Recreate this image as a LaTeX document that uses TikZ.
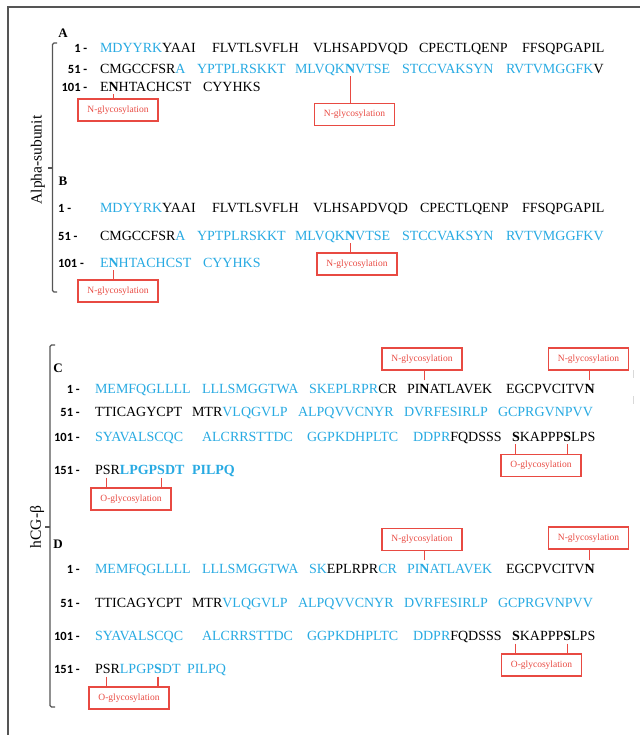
\documentclass[tikz,border=0pt]{standalone}
\usepackage{fontspec}
\setmainfont{Liberation Serif}
\newfontfamily\numfont{Carlito}
\definecolor{sblue}{RGB}{40,170,226}
\definecolor{gred}{RGB}{232,74,66}
\definecolor{bgray}{RGB}{85,85,85}
\newcommand{\bluetxt}[1]{\textcolor{sblue}{#1}}
\begin{document}
\begin{tikzpicture}[x=1pt,y=-1pt,
  seqt/.style={font=\fontsize{14}{16}\selectfont, inner sep=0pt, outer sep=0pt, anchor=base west},
  numl/.style={font=\numfont\bfseries\fontsize{12.5}{14}\selectfont, inner sep=0pt, anchor=base east},
  numlw/.style={font=\numfont\bfseries\fontsize{12.5}{14}\selectfont, inner sep=0pt, anchor=base west},
  plabel/.style={font=\bfseries\fontsize{13}{15}\selectfont, inner sep=0pt},
  gbox/.style={draw=gred, line width=1.1pt, text=gred, font=\fontsize{9.5}{11}\selectfont, minimum width=80pt, minimum height=22pt, inner sep=0pt},
  tick/.style={draw=gred, line width=1.1pt},
  brk/.style={draw=bgray, line width=1.2pt, rounded corners=1.5pt},
  side/.style={font=\fontsize{15.5}{17}\selectfont, rotate=90, inner sep=0pt}]
\useasboundingbox (0,0) rectangle (639,735);
% frame
\draw[draw=bgray, line width=1.4pt] (660,7) -- (8,7) -- (8,760);
\draw[draw=black!15, line width=1pt] (633,370) -- (633,378) (633,396) -- (633,404);

% side labels and brackets
\node[side] (lalpha) at (38,160) {Alpha-subunit};
\draw[brk] (57,43) -- (52.5,43) -- (52.5,292) -- (57,292);
\draw[brk] (52.5,168) -- (47.5,168);
\node[side] (lhcg) at (37,527) {hCG-β};
\draw[brk] (55,345) -- (50,345) -- (50,707) -- (55,707);
\draw[brk] (50,527) -- (45,527);

% ===== Panel A =====
\node[plabel] (pA) at (63,33) {A};
\node[numl] (nA1) at (87.5,52.6) {1 -};
\node[numl] (nA2) at (87.5,73.1) {51 -};
\node[numl] (nA3) at (87.5,91.6) {101 -};
\node[seqt] (a1a) at (100,52.6) {\bluetxt{MDYYRK}YAAI};
\node[seqt] (a1b) at (212,52.6) {FLVTLSVFLH};
\node[seqt] (a1c) at (313,52.6) {VLHSAPDVQD};
\node[seqt] (a1d) at (419,52.6) {CPECTLQENP};
\node[seqt] (a1e) at (522,52.6) {FFSQPGAPIL};
\node[seqt] (a2a) at (100,73.1) {CMGCCFSR\bluetxt{A}};
\node[seqt] (a2b) at (197,73.1) {\bluetxt{YPTPLRSKKT}};
\node[seqt] (a2c) at (295,73.1) {\bluetxt{MLVQK}};
\node[seqt] (a2N) at (a2c.base east) {\bluetxt{\bfseries N}};
\node[seqt] (a2d) at (a2N.base east) {\bluetxt{VTSE}};
\node[seqt] (a2e) at (402,73.1) {\bluetxt{STCCVAKSYN}};
\node[seqt] (a2f) at (506,73.1) {\bluetxt{RVTVMGGFK}V};
\node[seqt] (a3a) at (100,91.6) {E};
\node[seqt] (a3N) at (a3a.base east) {\bfseries N};
\node[seqt] (a3b) at (a3N.base east) {HTACHCST};
\node[seqt] (a3c) at (203,91.6) {CYYHKS};
\node[gbox] (bA1) at (118,110) {N-glycosylation};
\node[gbox] (bA2) at (354.5,114.5) {N-glycosylation};
\draw[tick] ([yshift=-2.5pt]a3N.south) -- (a3N.south |- bA1.north);
\draw[tick] ([yshift=-3pt]a2N.south) -- (a2N.south |- bA2.north);

% ===== Panel B =====
\node[plabel] (pB) at (63,181) {B};
\node[numlw] (nB1) at (58,212.6) {1 -};
\node[numlw] (nB2) at (58,240.6) {51 -};
\node[numlw] (nB3) at (58,267.6) {101 -};
\node[seqt] (b1a) at (100,212.6) {\bluetxt{MDYYRK}YAAI};
\node[seqt] (b1b) at (212,212.6) {FLVTLSVFLH};
\node[seqt] (b1c) at (313,212.6) {VLHSAPDVQD};
\node[seqt] (b1d) at (420,212.6) {CPECTLQENP};
\node[seqt] (b1e) at (522,212.6) {FFSQPGAPIL};
\node[seqt] (b2a) at (100,240.6) {CMGCCFSR\bluetxt{A}};
\node[seqt] (b2b) at (197,240.6) {\bluetxt{YPTPLRSKKT}};
\node[seqt] (b2c) at (295,240.6) {\bluetxt{MLVQK}};
\node[seqt] (b2N) at (b2c.base east) {\bluetxt{\bfseries N}};
\node[seqt] (b2d) at (b2N.base east) {\bluetxt{VTSE}};
\node[seqt] (b2e) at (402,240.6) {\bluetxt{STCCVAKSYN}};
\node[seqt] (b2f) at (506,240.6) {\bluetxt{RVTVMGGFKV}};
\node[seqt] (b3a) at (100,267.6) {\bluetxt{E}};
\node[seqt] (b3N) at (b3a.base east) {\bluetxt{\bfseries N}};
\node[seqt] (b3b) at (b3N.base east) {\bluetxt{HTACHCST}};
\node[seqt] (b3c) at (203,267.6) {\bluetxt{CYYHKS}};
\node[gbox] (bB1) at (118,291) {N-glycosylation};
\node[gbox] (bB2) at (357,264) {N-glycosylation};
\draw[tick] ([yshift=-2.5pt]b3N.south) -- (b3N.south |- bB1.north);
\draw[tick] ([yshift=-2.5pt]b2N.south) -- (b2N.south |- bB2.north);

% ===== Panel C =====
\node[plabel] (pC) at (58,368) {C};
\node[numl] (nC1) at (80,393.6) {1 -};
\node[numl] (nC2) at (80,416.6) {51 -};
\node[numl] (nC3) at (80,441.6) {101 -};
\node[numl] (nC4) at (80,474.6) {151 -};
\node[seqt] (c1a) at (95,393.6) {\bluetxt{MEMFQGLLLL}};
\node[seqt] (c1b) at (202,393.6) {\bluetxt{LLLSMGGTWA}};
\node[seqt] (c1c) at (309,393.6) {\bluetxt{SKEPLRPR}CR};
\node[seqt] (c1d) at (407,393.6) {PI};
\node[seqt] (c1N) at (c1d.base east) {\bfseries N};
\node[seqt] (c1e) at (c1N.base east) {ATLAVEK};
\node[seqt] (c1f) at (506,393.6) {EGCPVCITV};
\node[seqt] (c1N2) at (c1f.base east) {\bfseries N};
\node[seqt] (c2a) at (95,416.6) {TTICAGYCPT};
\node[seqt] (c2b) at (192,416.6) {MTR\bluetxt{VLQGVLP}};
\node[seqt] (c2c) at (298,416.6) {\bluetxt{ALPQVVCNYR}};
\node[seqt] (c2d) at (404,416.6) {\bluetxt{DVRFESIRLP}};
\node[seqt] (c2e) at (498,416.6) {\bluetxt{GCPRGVNPVV}};
\node[seqt] (c3a) at (95,441.6) {\bluetxt{SYAVALSCQC}};
\node[seqt] (c3b) at (202,441.6) {\bluetxt{ALCRRSTTDC}};
\node[seqt] (c3c) at (307,441.6) {\bluetxt{GGPKDHPLTC}};
\node[seqt] (c3d) at (413,441.6) {\bluetxt{DDPR}FQDSSS};
\node[seqt] (c3S1) at (512,441.6) {\bfseries S};
\node[seqt] (c3e) at (c3S1.base east) {KAPPP};
\node[seqt] (c3S2) at (c3e.base east) {\bfseries S};
\node[seqt] (c3f) at (c3S2.base east) {LPS};
\node[seqt] (c4a) at (95,474.6) {P};
\node[seqt] (c4S1) at (c4a.base east) {S};
\node[seqt] (c4b) at (c4S1.base east) {R};
\node[seqt] (c4c) at (c4b.base east) {\bluetxt{\bfseries LPGP}};
\node[seqt] (c4S2) at (c4c.base east) {\bluetxt{\bfseries S}};
\node[seqt] (c4d) at (c4S2.base east) {\bluetxt{\bfseries DT}};
\node[seqt] (c4e) at (192,474.6) {\bluetxt{\bfseries PILPQ}};
\node[gbox] (bC1) at (422,359) {N-glycosylation};
\node[gbox] (bC2) at (588.5,359) {N-glycosylation};
\node[gbox] (bC3) at (541,465.5) {O-glycosylation};
\node[gbox] (bC4) at (131,499) {O-glycosylation};
\draw[tick] ([yshift=4pt]c1N.north) -- (c1N.north |- bC1.south);
\draw[tick] ([yshift=4pt]c1N2.north) -- (c1N2.north |- bC2.south);
\draw[tick] ([yshift=-2.5pt]c3S1.south) -- (c3S1.south |- bC3.north);
\draw[tick] ([yshift=-2.5pt]c3S2.south) -- (c3S2.south |- bC3.north);
\draw[tick] ([yshift=-3pt]c4S1.south) -- (c4S1.south |- bC4.north);
\draw[tick] ([yshift=-3pt]c4S2.south) -- (c4S2.south |- bC4.north);

% ===== Panel D =====
\node[plabel] (pD) at (58,544) {D};
\node[numl] (nD1) at (80,573.6) {1 -};
\node[numl] (nD2) at (80,607.6) {51 -};
\node[numl] (nD3) at (80,640.6) {101 -};
\node[numl] (nD4) at (80,673.6) {151 -};
\node[seqt] (d1a) at (95,573.6) {\bluetxt{MEMFQGLLLL}};
\node[seqt] (d1b) at (202,573.6) {\bluetxt{LLLSMGGTWA}};
\node[seqt] (d1c) at (309,573.6) {\bluetxt{SK}EPLRPR\bluetxt{CR}};
\node[seqt] (d1d) at (407,573.6) {\bluetxt{PI}};
\node[seqt] (d1N) at (d1d.base east) {\bluetxt{\bfseries N}};
\node[seqt] (d1e) at (d1N.base east) {\bluetxt{ATLAVEK}};
\node[seqt] (d1f) at (506,573.6) {EGCPVCITV};
\node[seqt] (d1N2) at (d1f.base east) {\bfseries N};
\node[seqt] (d2a) at (95,607.6) {TTICAGYCPT};
\node[seqt] (d2b) at (192,607.6) {MTR\bluetxt{VLQGVLP}};
\node[seqt] (d2c) at (298,607.6) {\bluetxt{ALPQVVCNYR}};
\node[seqt] (d2d) at (404,607.6) {\bluetxt{DVRFESIRLP}};
\node[seqt] (d2e) at (498,607.6) {\bluetxt{GCPRGVNPVV}};
\node[seqt] (d3a) at (95,640.6) {\bluetxt{SYAVALSCQC}};
\node[seqt] (d3b) at (202,640.6) {\bluetxt{ALCRRSTTDC}};
\node[seqt] (d3c) at (307,640.6) {\bluetxt{GGPKDHPLTC}};
\node[seqt] (d3d) at (413,640.6) {\bluetxt{DDPR}FQDSSS};
\node[seqt] (d3S1) at (512,640.6) {\bfseries S};
\node[seqt] (d3e) at (d3S1.base east) {KAPPP};
\node[seqt] (d3S2) at (d3e.base east) {\bfseries S};
\node[seqt] (d3f) at (d3S2.base east) {LPS};
\node[seqt] (d4a) at (95,673.6) {P};
\node[seqt] (d4S1) at (d4a.base east) {S};
\node[seqt] (d4b) at (d4S1.base east) {R};
\node[seqt] (d4c) at (d4b.base east) {\bluetxt{LPGP}};
\node[seqt] (d4S2) at (d4c.base east) {\bluetxt{\bfseries S}};
\node[seqt] (d4d) at (d4S2.base east) {\bluetxt{DT}};
\node[seqt] (d4e) at (187,673.6) {\bluetxt{PILPQ}};
\node[gbox] (bD1) at (422,539.5) {N-glycosylation};
\node[gbox] (bD2) at (588.5,538) {N-glycosylation};
\node[gbox] (bD3) at (541.5,665) {O-glycosylation};
\node[gbox] (bD4) at (129,698) {O-glycosylation};
\draw[tick] ([yshift=4pt]d1N.north) -- (d1N.north |- bD1.south);
\draw[tick] ([yshift=4pt]d1N2.north) -- (d1N2.north |- bD2.south);
\draw[tick] ([yshift=-3pt]d3S1.south) -- (d3S1.south |- bD3.north);
\draw[tick] ([yshift=-3pt]d3S2.south) -- (d3S2.south |- bD3.north);
\draw[tick] ([yshift=-3pt]d4S1.south) -- (d4S1.south |- bD4.north);
\draw[tick] ([yshift=-3pt]d4S2.south) -- (d4S2.south |- bD4.north);
\end{tikzpicture}
\end{document}
